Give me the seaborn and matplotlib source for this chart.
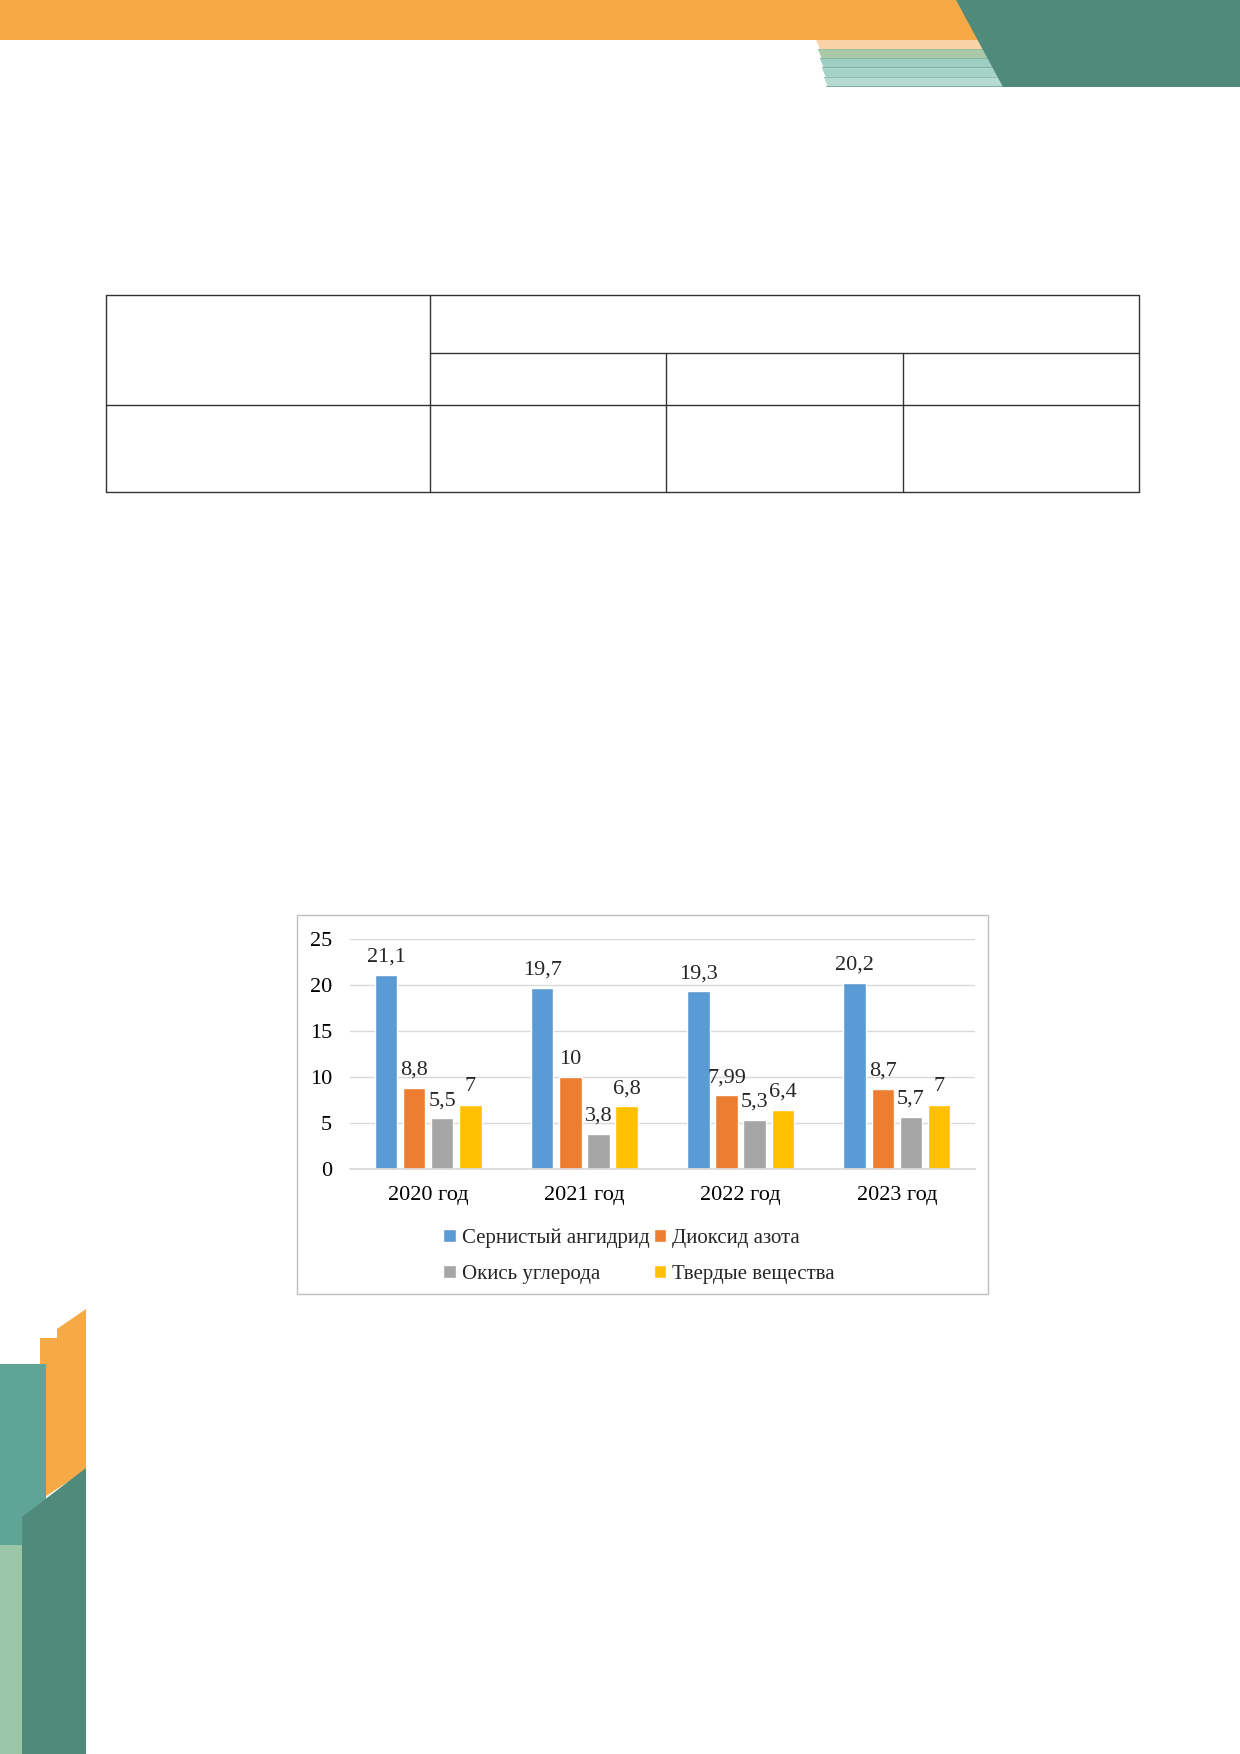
import pandas as pd
import seaborn as sns
import matplotlib.pyplot as plt
from matplotlib.patches import Polygon, Rectangle
from matplotlib.lines import Line2D

# данные диаграммы
years = ['2020 год', '2021 год', '2022 год', '2023 год']
substances = ['Сернистый ангидрид', 'Диоксид азота', 'Окись углерода', 'Твердые вещества']
sernisty = [21.1, 19.7, 19.3, 20.2]
dioksid = [8.8, 10, 7.99, 8.7]
okis = [5.5, 3.8, 5.3, 5.7]
tverdye = [7, 6.8, 6.4, 7]
colors = ['#5B9BD5', '#ED7D31', '#A5A5A5', '#FFC000']

W, H = 1240, 1754

def fx(x):
    return x / W

def fy(y):
    return 1 - y / H

sns.set_theme(style='white')
plt.rcParams['font.family'] = ['Liberation Serif', 'DejaVu Serif']

fig = plt.figure(figsize=(12.4, 17.54), dpi=100)

# оформление страницы: полосы сверху
fig.patches.append(Rectangle((0, fy(40)), 1, fy(0) - fy(40), transform=fig.transFigure,
                             facecolor='#F6AA45', edgecolor='none'))
for i, c in enumerate(['#F9D3A5', '#A9C9A8', '#9FCFC3', '#A6D3C7', '#B5DBD0']):
    y0 = 40 + i * 9.4
    fig.patches.append(Polygon([(fx(816 + i * 2), fy(y0)), (fx(1050), fy(y0)),
                                (fx(1052), fy(y0 + 9.4)), (fx(818 + i * 2 + 2), fy(y0 + 9.4))],
                               closed=True, transform=fig.transFigure, facecolor=c, edgecolor='none'))
    fig.patches.append(Rectangle((fx(818 + i * 2), fy(y0 + 9.6)), fx(1050 - 818 - i * 2), 0.9 / H,
                                 transform=fig.transFigure, facecolor='#7FAF9F', edgecolor='none'))
fig.patches.append(Polygon([(fx(956), fy(0)), (fx(1240), fy(0)), (fx(1240), fy(87)), (fx(1003), fy(87))],
                           closed=True, transform=fig.transFigure, facecolor='#4F8A7B', edgecolor='none'))

# оформление страницы: элемент снизу слева
fig.patches.append(Polygon([(fx(40), fy(1338)), (fx(57), fy(1338)), (fx(57), fy(1329)), (fx(86), fy(1309)),
                            (fx(86), fy(1470)), (fx(40), fy(1500))],
                           closed=True, transform=fig.transFigure, facecolor='#F6AA45', edgecolor='none'))
fig.patches.append(Rectangle((fx(0), fy(1545)), fx(46), fy(1364) - fy(1545), transform=fig.transFigure,
                             facecolor='#5FA596', edgecolor='none'))
fig.patches.append(Rectangle((fx(0), fy(1754)), fx(22), fy(1545) - fy(1754), transform=fig.transFigure,
                             facecolor='#9CC6A8', edgecolor='none'))
fig.patches.append(Polygon([(fx(22), fy(1517)), (fx(86), fy(1468)), (fx(86), fy(1754)), (fx(22), fy(1754))],
                           closed=True, transform=fig.transFigure, facecolor='#4F8A7B', edgecolor='none'))

# пустая таблица
tbl_lines = [
    ((106, 295), (1139, 295)), ((430, 353), (1139, 353)), ((106, 405), (1139, 405)),
    ((106, 492), (1139, 492)), ((106, 295), (106, 492)), ((430, 295), (430, 492)),
    ((666, 353), (666, 492)), ((903, 353), (903, 492)), ((1139, 295), (1139, 492)),
]
for (x0, y0), (x1, y1) in tbl_lines:
    fig.add_artist(Line2D([fx(x0), fx(x1)], [fy(y0), fy(y1)], transform=fig.transFigure,
                          color='#333333', linewidth=1.0))

# рамка диаграммы
fig.patches.append(Rectangle((fx(297), fy(1294)), fx(988) - fx(297), fy(915) - fy(1294),
                             transform=fig.transFigure, facecolor='none', edgecolor='#BFBFBF', linewidth=1.0))

df = pd.DataFrame({
    'Год': years * 4,
    'Вещество': [s for s in substances for _ in years],
    'Значение': sernisty + dioksid + okis + tverdye,
})

ax = fig.add_axes([fx(350), fy(1169), fx(975) - fx(350), fy(939) - fy(1169)])
sns.barplot(data=df, x='Год', y='Значение', hue='Вещество', hue_order=substances,
            palette=colors, width=0.72, gap=0.2, ax=ax, saturation=1)

ax.set_ylim(0, 25)
ax.set_yticks([0, 5, 10, 15, 20, 25])
ax.yaxis.grid(True, color='#D9D9D9', linewidth=1)
ax.set_axisbelow(True)
for side in ['top', 'right', 'left']:
    ax.spines[side].set_visible(False)
ax.spines['bottom'].set_color('#D9D9D9')
ax.set_xlabel('')
ax.set_ylabel('')
ax.tick_params(axis='both', length=0, labelsize=16, colors='black')
ax.tick_params(axis='x', pad=12)
ax.tick_params(axis='y', pad=13)

for cont, vals in zip(ax.containers, [sernisty, dioksid, okis, tverdye]):
    labs = [str(v).replace('.', ',') for v in vals]
    ax.bar_label(cont, labels=labs, padding=6, fontsize=16)

handles, labels = ax.get_legend_handles_labels()
ax.get_legend().remove()
order = [0, 2, 1, 3]
fig.legend([handles[i] for i in order], [labels[i] for i in order], ncol=2,
           loc='center', bbox_to_anchor=(fx(639), fy(1256)), frameon=False, fontsize=15,
           handlelength=0.6, handleheight=0.6, handletextpad=0.3, columnspacing=0.2,
           labelspacing=0.8)

fig.savefig('out.png', dpi=100)
